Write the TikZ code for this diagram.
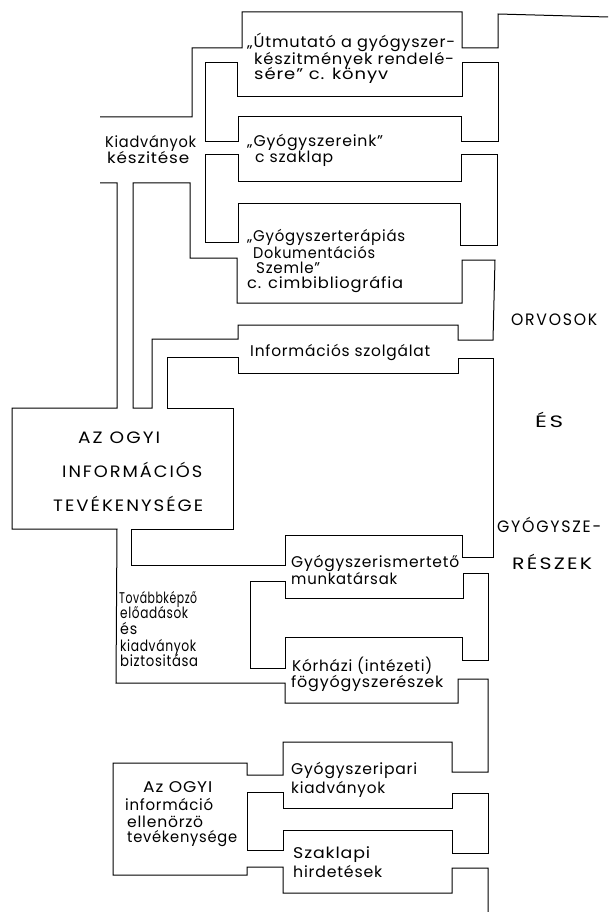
\documentclass[tikz,border=0pt]{standalone}
\usepackage{graphicx}
\usepackage{fontspec}
\setmainfont{Poppins}[LetterSpace=5]
\newfontfamily\capsfont{Poppins}[LetterSpace=11]
\newcommand{\mytl}[6][lbl]{\node[#1] (#2) at (#3,#4) {\resizebox{#5pt}{\height}{#6}};}
\begin{document}
\begin{tikzpicture}[x=1pt,y=-1pt,
  wall/.style={line width=1pt, line join=miter},
  lbl/.style={anchor=base west, inner sep=0pt, font=\fontsize{15.5}{17}\selectfont},
  caplbl/.style={anchor=base west, inner sep=0pt, font=\capsfont\fontsize{16.5}{18}\selectfont}]
\useasboundingbox (0,0) rectangle (608,912);
% main continuous wall
\draw[wall] (608,17) -- (498,14) -- (498,48) -- (462,48) -- (462,12) -- (242,12) -- (242,48)
  -- (192,48) -- (192,117) -- (100,117);
\draw[wall] (100,183) -- (117,183) -- (117,408) -- (12,408) -- (12,529) -- (117,529)
  -- (116,683) -- (285,683) -- (285,703) -- (458,703) -- (458,679) -- (488,679) -- (488,772)
  -- (452,772) -- (452,742) -- (283,742) -- (283,775) -- (247,775) -- (247,763) -- (113,763)
  -- (113,875) -- (247,875) -- (247,867) -- (283,867) -- (283,893) -- (452,893) -- (452,868)
  -- (488,868) -- (488,912);
% loops
\draw[wall] (205,63) -- (237,63) -- (237,97) -- (462,97) -- (462,63) -- (498,63) -- (498,142)
  -- (461,142) -- (461,117) -- (238,117) -- (238,142) -- (205,142) -- cycle;
\draw[wall] (205,155) -- (238,155) -- (238,182) -- (461,182) -- (461,155) -- (497,155) -- (497,245)
  -- (460,245) -- (460,203) -- (238,203) -- (238,242) -- (205,242) -- cycle;
\draw[wall] (133,183) -- (190,183) -- (190,258) -- (237,258) -- (237,303) -- (462,303) -- (462,260)
  -- (495,260) -- (493,340) -- (458,340) -- (458,325) -- (238,325) -- (238,339) -- (152,339)
  -- (152,408) -- (133,408) -- cycle;
\draw[wall] (167,408) -- (167,357) -- (238,357) -- (238,373) -- (458,373) -- (458,358) -- (493,358)
  -- (493,557) -- (462,557) -- (462,535) -- (285,535) -- (285,565) -- (131,565) -- (131,529)
  -- (233,529) -- (233,408) -- cycle;
\draw[wall] (250,581) -- (285,581) -- (285,598) -- (463,598) -- (463,573) -- (488,573) -- (488,660)
  -- (462,660) -- (462,637) -- (285,637) -- (285,668) -- (250,668) -- cycle;
\draw[wall] (247,792) -- (283,792) -- (283,808) -- (452,808) -- (452,793) -- (488,793) -- (488,853)
  -- (452,853) -- (452,830) -- (283,830) -- (283,850) -- (247,850) -- cycle;
% texts
\mytl{b1a}{247}{48}{208}{„Útmutató a gyógyszer-}
\mytl{b1b}{254}{64.5}{200}{készitmények rendelé-}
\mytl{b1c}{254}{80}{134}{sére” c. könyv}
\mytl{kia}{105}{148}{91}{Kiadványok}
\mytl{kib}{107}{164}{82}{készitése}
\mytl{b2a}{247}{147}{136}{„Gyógyszereink”}
\mytl{b2b}{255}{163}{78}{c szaklap}
\mytl{b3a}{247}{241}{158}{„Gyógyszerterápiás}
\mytl{b3b}{253}{258}{122}{Dokumentációs}
\mytl{b3c}{256}{273}{64}{Szemle”}
\mytl{b3d}{247}{288}{156}{c. cimbibliográfia}
\mytl{inf}{250}{356}{180}{Információs szolgálat}
\mytl[caplbl]{aza}{78}{443}{82}{AZ OGYI}
\mytl[caplbl]{azb}{62}{477}{140}{INFORMÁCIÓS}
\mytl[caplbl]{azc}{53}{511}{150}{TEVÉKENYSÉGE}
\mytl[caplbl]{orv}{511}{325}{86}{ORVOSOK}
\mytl[caplbl]{es}{535}{427}{28}{ÉS}
\mytl[caplbl]{gyo}{497}{532}{104}{GYÓGYSZE-}
\mytl[caplbl]{res}{512}{569}{80}{RÉSZEK}
\mytl{gia}{291}{567}{168}{Gyógyszerismertető}
\mytl{gib}{291}{584}{106}{munkatársak}
\mytl{tka}{119}{603}{78}{Továbbképző}
\mytl{tkb}{120}{618}{68}{előadások}
\mytl{tkc}{120}{634}{17}{és}
\mytl{tkd}{120}{651}{76}{kiadványok}
\mytl{tke}{120}{666}{78}{biztositása}
\mytl{koa}{292}{671}{140}{Kórházi (intézeti)}
\mytl{kob}{291}{687}{152}{fögyógyszerészek}
\mytl{oga}{143}{792}{69}{Az OGYI}
\mytl{ogb}{125}{810}{88}{információ}
\mytl{ogc}{127}{827}{76}{ellenörzö}
\mytl{ogd}{127}{842}{110}{tevékenysége}
\mytl{gpa}{291}{774}{126}{Gyógyszeripari}
\mytl{gpb}{291}{793}{94}{kiadványok}
\mytl{sza}{293}{858}{77}{Szaklapi}
\mytl{szb}{293}{877}{89}{hirdetések}
\end{tikzpicture}
\end{document}
